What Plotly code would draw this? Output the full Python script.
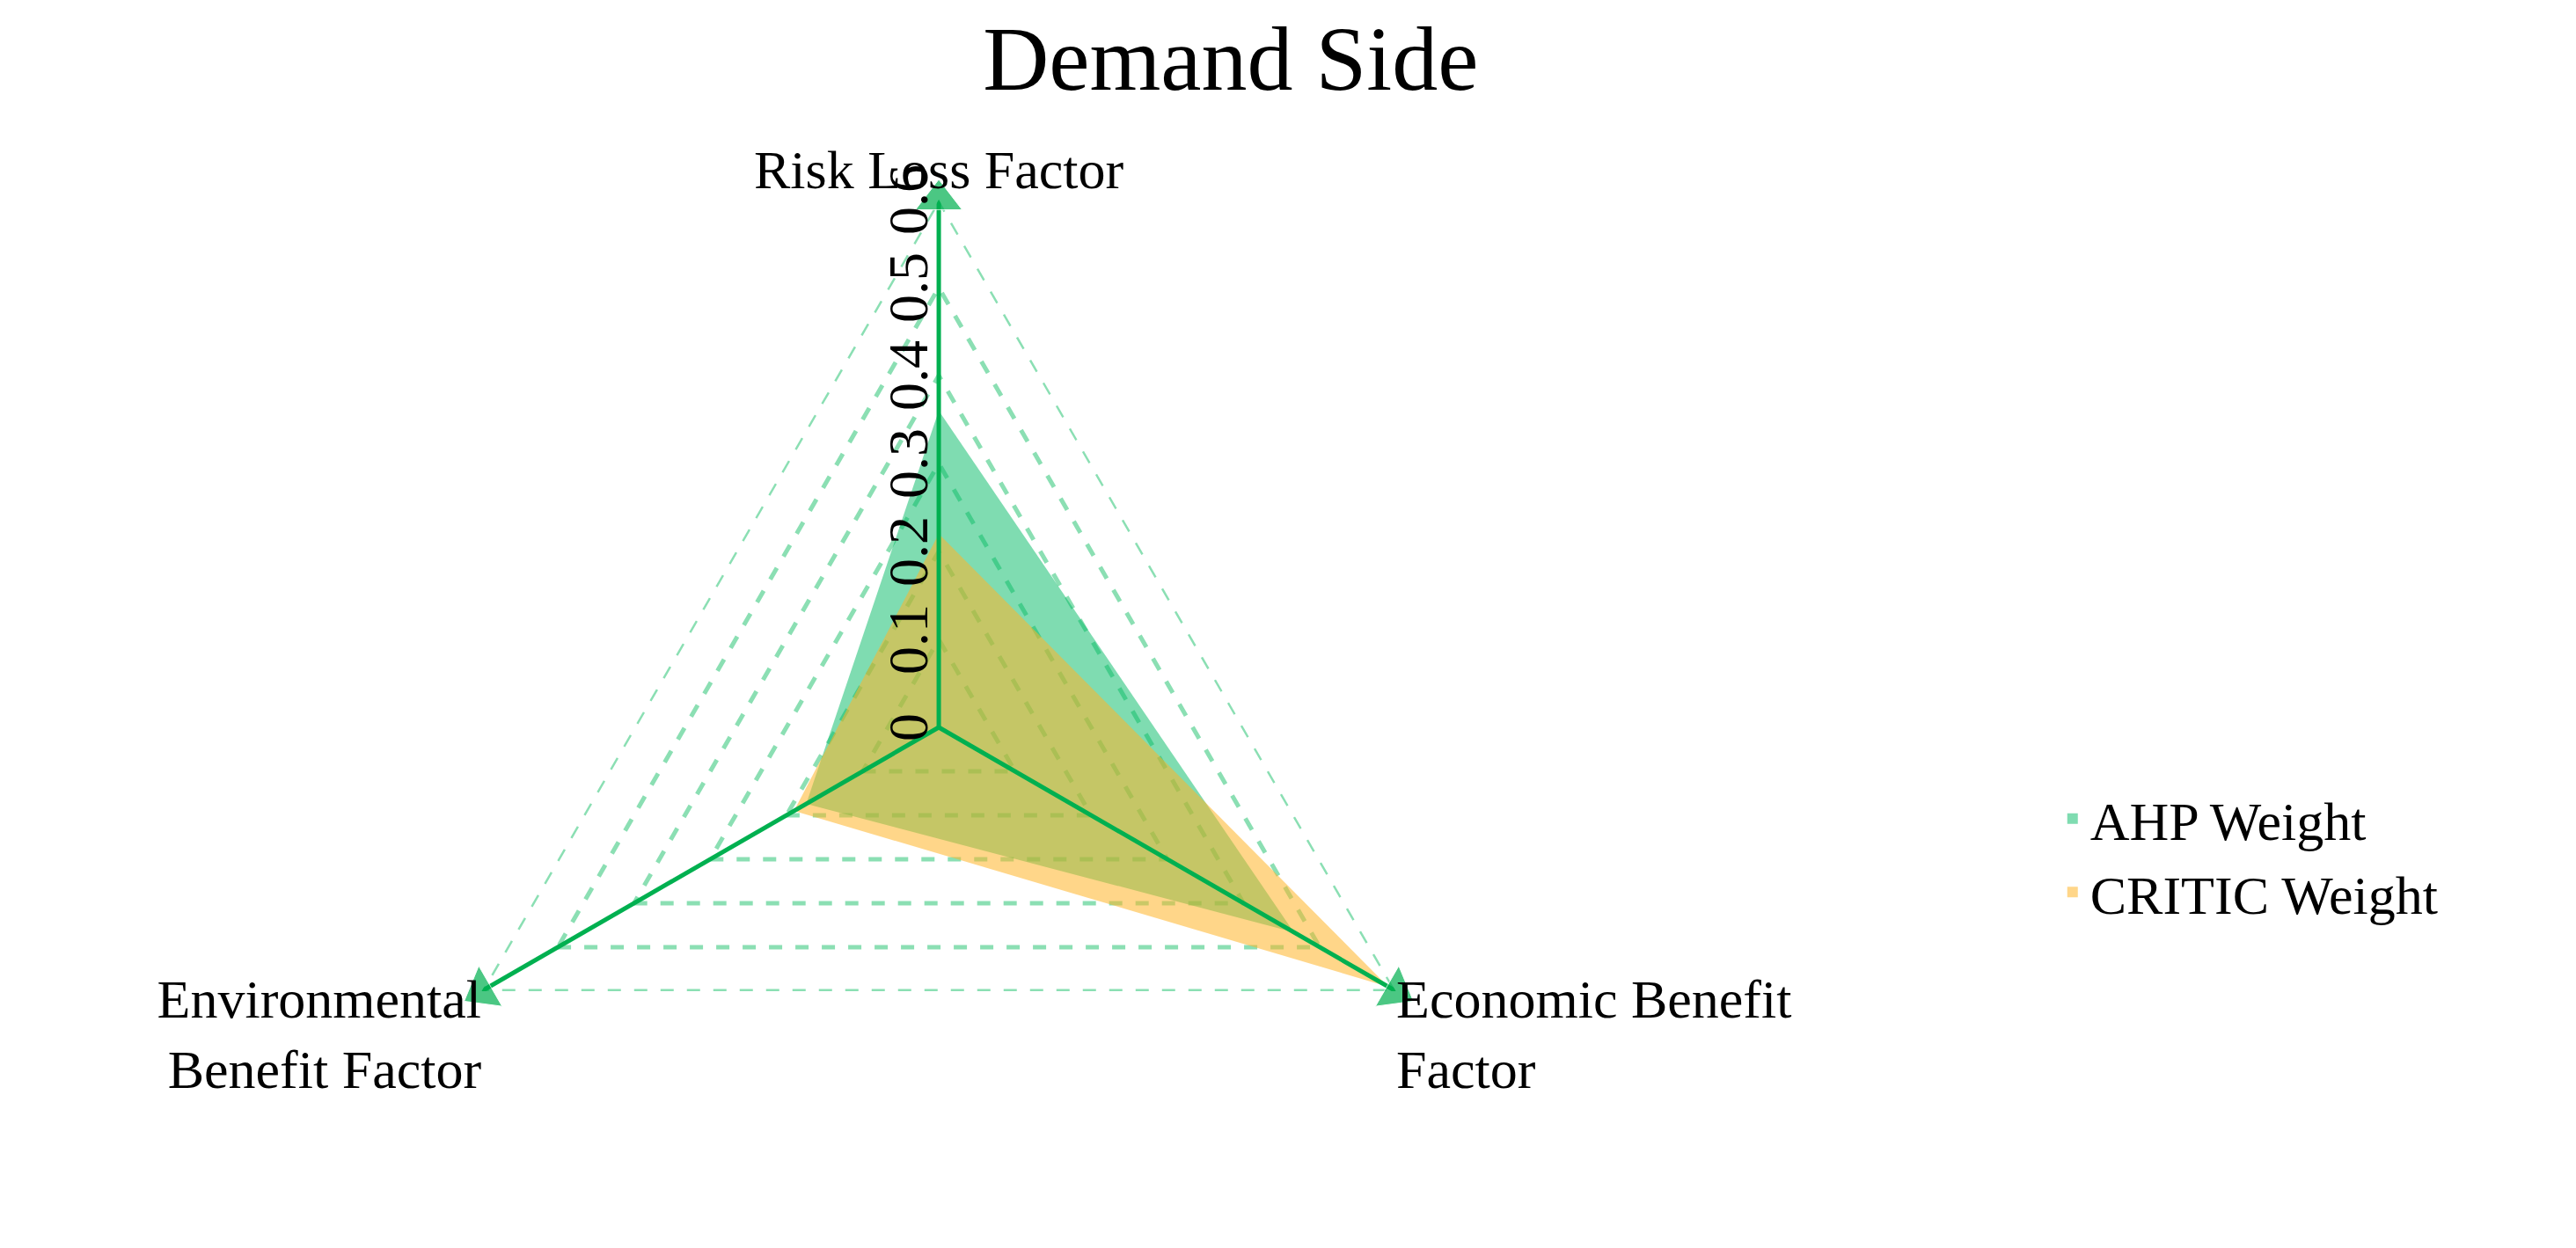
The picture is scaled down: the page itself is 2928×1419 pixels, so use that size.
import plotly.graph_objects as go

categories = ['Risk Loss Factor', 'Economic Benefit<br>Factor', 'Environmental<br>Benefit Factor']
ahp_weight = [0.36, 0.466, 0.174]
critic_weight = [0.22, 0.59, 0.19]
tick_vals = [0, 0.1, 0.2, 0.3, 0.4, 0.5, 0.6]

green = '#00b050'
grid = 'rgba(110,215,160,0.8)'
ahp_col = 'rgba(0,185,100,0.5)'
critic_col = 'rgba(255,180,40,0.55)'
font = 'Liberation Serif'

fig = go.Figure()

fig.add_trace(go.Scatterpolar(
    r=ahp_weight + ahp_weight[:1], theta=categories + categories[:1],
    fill='toself', fillcolor=ahp_col, mode='none', showlegend=False))
fig.add_trace(go.Scatterpolar(
    r=critic_weight + critic_weight[:1], theta=categories + categories[:1],
    fill='toself', fillcolor=critic_col, mode='none', showlegend=False))

# legend entries as squares
for name, col in [('AHP Weight', ahp_col), ('CRITIC Weight', critic_col)]:
    fig.add_trace(go.Scatterpolar(
        r=[None], theta=[categories[0]], mode='markers', name=name,
        marker=dict(symbol='square', size=36, color=col)))

# outer dashed boundary
fig.add_trace(go.Scatterpolar(
    r=[tick_vals[-1]] * 4, theta=categories + categories[:1], mode='lines',
    line=dict(color=grid, width=5, dash='dash'), showlegend=False, hoverinfo='skip'))

# axis spokes with arrowheads
angles = [0, 120, 240]
for cat, ang in zip(categories, angles):
    fig.add_trace(go.Scatterpolar(
        r=[0, tick_vals[-1]], theta=[cat, cat], mode='lines+markers',
        line=dict(color=green, width=5),
        marker=dict(symbol='triangle-up', size=[0, 46], angle=ang, color=green),
        showlegend=False, hoverinfo='skip'))

fig.update_layout(
    width=2928, height=1419,
    paper_bgcolor='white', plot_bgcolor='white',
    margin=dict(l=0, r=0, t=0, b=0),
    font=dict(family=font, color='black'),
    title=dict(text='Demand Side', x=0.475, xanchor='center', y=0.985, yanchor='top',
               font=dict(size=104, family=font, color='black')),
    polar=dict(
        domain=dict(x=[0.1568, 0.5666], y=[0.0, 0.8457]),
        gridshape='linear',
        bgcolor='white',
        radialaxis=dict(range=[0, 0.6], tickvals=tick_vals, ticktext=[str(v) for v in tick_vals],
                        angle=90, tickangle=0, side='counterclockwise', showline=False, ticks='',
                        gridcolor=grid, griddash='dash', gridwidth=5,
                        tickfont=dict(size=64, family=font, color='black')),
        angularaxis=dict(direction='clockwise', rotation=90, showgrid=False, showline=False,
                         ticks='', tickfont=dict(size=62, family=font, color='black'))),
    legend=dict(x=0.795, y=0.32, xanchor='left', yanchor='middle',
                font=dict(size=62, family=font, color='black'), tracegroupgap=40,
                itemsizing='constant'),
)

fig.write_html('out.html')
